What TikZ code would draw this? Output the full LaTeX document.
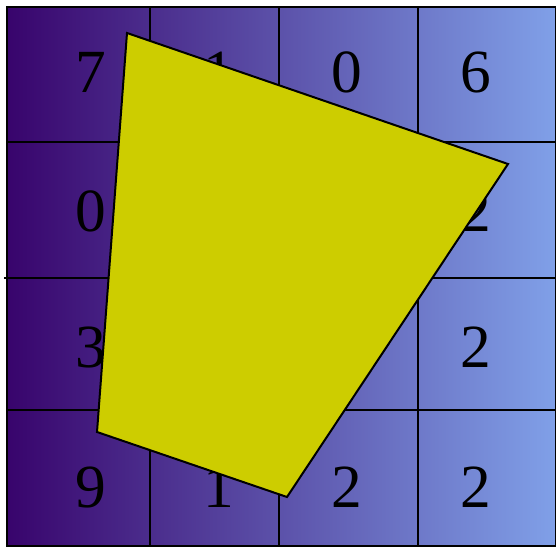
\documentclass[tikz,border=0pt]{standalone}
\usepackage{fontspec}
\setmainfont{Liberation Serif}
\definecolor{gridleft}{RGB}{56, 4, 108}
\definecolor{gridright}{RGB}{128, 160, 232}
\definecolor{polyyellow}{RGB}{205, 205, 0}
\usetikzlibrary{calc}

\begin{document}
\begin{tikzpicture}[x=0.75pt, y=-0.75pt,
    gridline/.style={line width=1.5pt, black},
    cellnum/.style={font=\fontsize{46}{46}\selectfont, inner sep=0pt}]
    \useasboundingbox (0, 0) rectangle (556, 546);
    % shaded board
    \shade[left color=gridleft, right color=gridright] (7, 7) rectangle (556, 546);
    \draw[gridline] (7, 7) rectangle (555.5, 545.5);
    \foreach \gx in {150, 279, 418}
        \draw[gridline] (\gx, 7) -- (\gx, 546);
    \foreach \gy in {142, 410}
        \draw[gridline] (7, \gy) -- (556, \gy);
    \draw[gridline] (4, 278) -- (556, 278);
    % numbers
    \node[cellnum] (n11) at (91, 72) {7};
    \node[cellnum] (n12) at (219, 72) {1};
    \node[cellnum] (n13) at (347, 72) {0};
    \node[cellnum] (n14) at (476, 72) {6};
    \node[cellnum] (n21) at (91, 211) {0};
    \node[cellnum] (n24) at (476, 211) {2};
    \node[cellnum] (n31) at (91, 347) {3};
    \node[cellnum] (n34) at (476, 347) {2};
    \node[cellnum] (n41) at (91, 487) {9};
    \node[cellnum] (n42) at (219, 487) {1};
    \node[cellnum] (n43) at (347, 487) {2};
    \node[cellnum] (n44) at (476, 487) {2};
    % yellow quadrilateral
    \draw[line width=1.5pt, fill=polyyellow, line join=miter]
        (127, 33) -- (508, 164) -- (287, 497) -- (97, 432) -- cycle;
\end{tikzpicture}
\end{document}
